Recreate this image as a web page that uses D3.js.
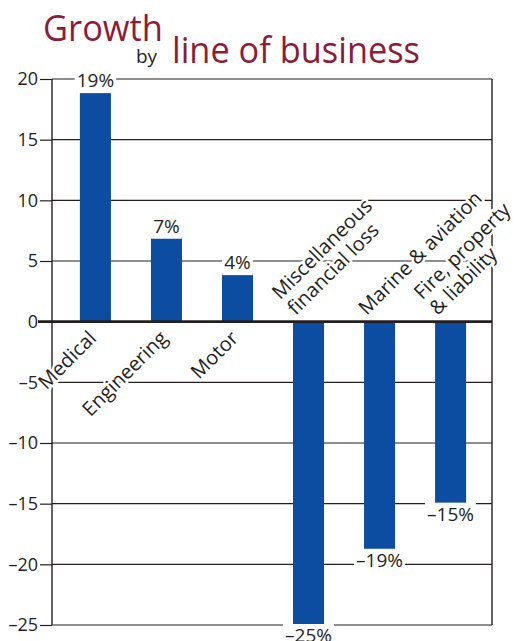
<!DOCTYPE html>
<html>
<head>
<meta charset="utf-8">
<script src="https://cdn.jsdelivr.net/npm/d3@7"></script>
<style>
  html, body { margin: 0; padding: 0; background: #fff; }
  svg { display: block; }
  text { font-family: "Open Sans", "Noto Sans", sans-serif; }
</style>
</head>
<body>
<svg id="chart" width="523" height="641"></svg>
<script>
// ---- data ----
const categories = ["Medical", "Engineering", "Motor", "Miscellaneous financial loss", "Marine & aviation", "Fire, property & liability"];
const categoryLines = [["Medical"], ["Engineering"], ["Motor"], ["Miscellaneous", "financial loss"], ["Marine & aviation"], ["Fire, property", "& liability"]];
const growth = [19, 7, 4, -25, -18.8, -15];
const valueLabels = ["19%", "7%", "4%", "–25%", "–19%", "–15%"];
const yTicks = [20, 15, 10, 5, 0, -5, -10, -15, -20, -25];
const titleMain = "Growth";
const titleBy = "by";
const titleRest = "line of business";

// ---- layout ----
const svg = d3.select("#chart");
const plotL = 52, plotR = 492, plotT = 79, plotB = 625;
const ink = "#231f20";
const barColor = "#0c4da2";
const titleColor = "#8c1c38";

const x = d3.scaleBand().domain(categories).range([60, 486]).paddingInner(0.563).paddingOuter(0.28);
const y = d3.scaleLinear().domain([-25, 20]).range([plotB, plotT]);

// title
svg.append("text").attr("x", 43).attr("y", 41).attr("fill", titleColor)
  .attr("font-size", 36).attr("textLength", 120).attr("lengthAdjust", "spacingAndGlyphs").text(titleMain);
svg.append("text").attr("x", 136).attr("y", 63).attr("fill", ink)
  .attr("font-size", 19).text(titleBy);
svg.append("text").attr("x", 172).attr("y", 63).attr("fill", titleColor)
  .attr("font-size", 36).attr("textLength", 248).attr("lengthAdjust", "spacingAndGlyphs").text(titleRest);

// gridlines
svg.append("g").selectAll("line").data(yTicks.filter(d => d !== 0)).join("line")
  .attr("x1", plotL).attr("x2", plotR)
  .attr("y1", d => y(d)).attr("y2", d => y(d))
  .attr("stroke", ink).attr("stroke-width", 1.2);

// y axis
const yAxis = d3.axisLeft(y).tickValues(yTicks).tickSize(12).tickPadding(2)
  .tickFormat(d => String(d).replace("-", "–"));
const gy = svg.append("g").attr("transform", `translate(${plotL},0)`).call(yAxis);
gy.select(".domain").remove();
gy.selectAll(".tick line").attr("stroke", ink).attr("stroke-width", 1.2);
gy.selectAll(".tick text").attr("fill", ink).attr("font-size", 18)
  .attr("font-family", "'Open Sans', sans-serif");

// frame
svg.append("line").attr("x1", plotL).attr("x2", plotL).attr("y1", plotT).attr("y2", plotB)
  .attr("stroke", ink).attr("stroke-width", 1.4);
svg.append("line").attr("x1", plotR).attr("x2", plotR).attr("y1", plotT).attr("y2", plotB)
  .attr("stroke", ink).attr("stroke-width", 1.4);

// bars
svg.append("g").selectAll("rect").data(categories).join("rect")
  .attr("x", d => x(d))
  .attr("width", x.bandwidth())
  .attr("y", (d, i) => y(Math.max(0, growth[i])))
  .attr("height", (d, i) => Math.abs(y(growth[i]) - y(0)))
  .attr("fill", barColor);

// zero line
svg.append("line").attr("x1", 38).attr("x2", plotR).attr("y1", y(0)).attr("y2", y(0))
  .attr("stroke", ink).attr("stroke-width", 2.6);

// value labels with white knockout
const vl = svg.append("g");
categories.forEach((c, i) => {
  const cx = x(c) + x.bandwidth() / 2;
  const v = growth[i];
  const by = v >= 0 ? y(v) - 4 : y(v) + 17;
  const g = vl.append("g");
  const bg = g.append("rect").attr("fill", "#fff");
  const t = g.append("text").attr("x", cx).attr("y", by).attr("text-anchor", "middle")
    .attr("font-size", 19).attr("fill", ink).text(valueLabels[i]);
  const bb = t.node().getBBox();
  bg.attr("x", bb.x - 2).attr("y", bb.y + 2).attr("width", bb.width + 4).attr("height", bb.height - 2);
});

// category labels
const cl = svg.append("g");
categories.forEach((c, i) => {
  const cx = x(c) + x.bandwidth() / 2;
  const pos = growth[i] >= 0;
  const lines = categoryLines[i];
  const g = cl.append("g").attr("transform", `translate(${cx},${y(0)}) rotate(-45)`);
  const lh = 22;
  lines.forEach((ln, j) => {
    let tx, ty, anchor;
    if (pos) { tx = -11; ty = 14 + j * lh; anchor = "end"; }
    else { tx = -5; ty = -13 - (lines.length - 1 - j) * lh; anchor = "start"; }
    g.append("text").attr("x", tx).attr("y", ty).attr("text-anchor", anchor)
      .attr("font-size", 20).attr("fill", ink)
      .attr("stroke", "#fff").attr("stroke-width", 5).attr("stroke-linejoin", "round")
      .attr("paint-order", "stroke").text(ln);
  });
});
</script>
</body>
</html>
